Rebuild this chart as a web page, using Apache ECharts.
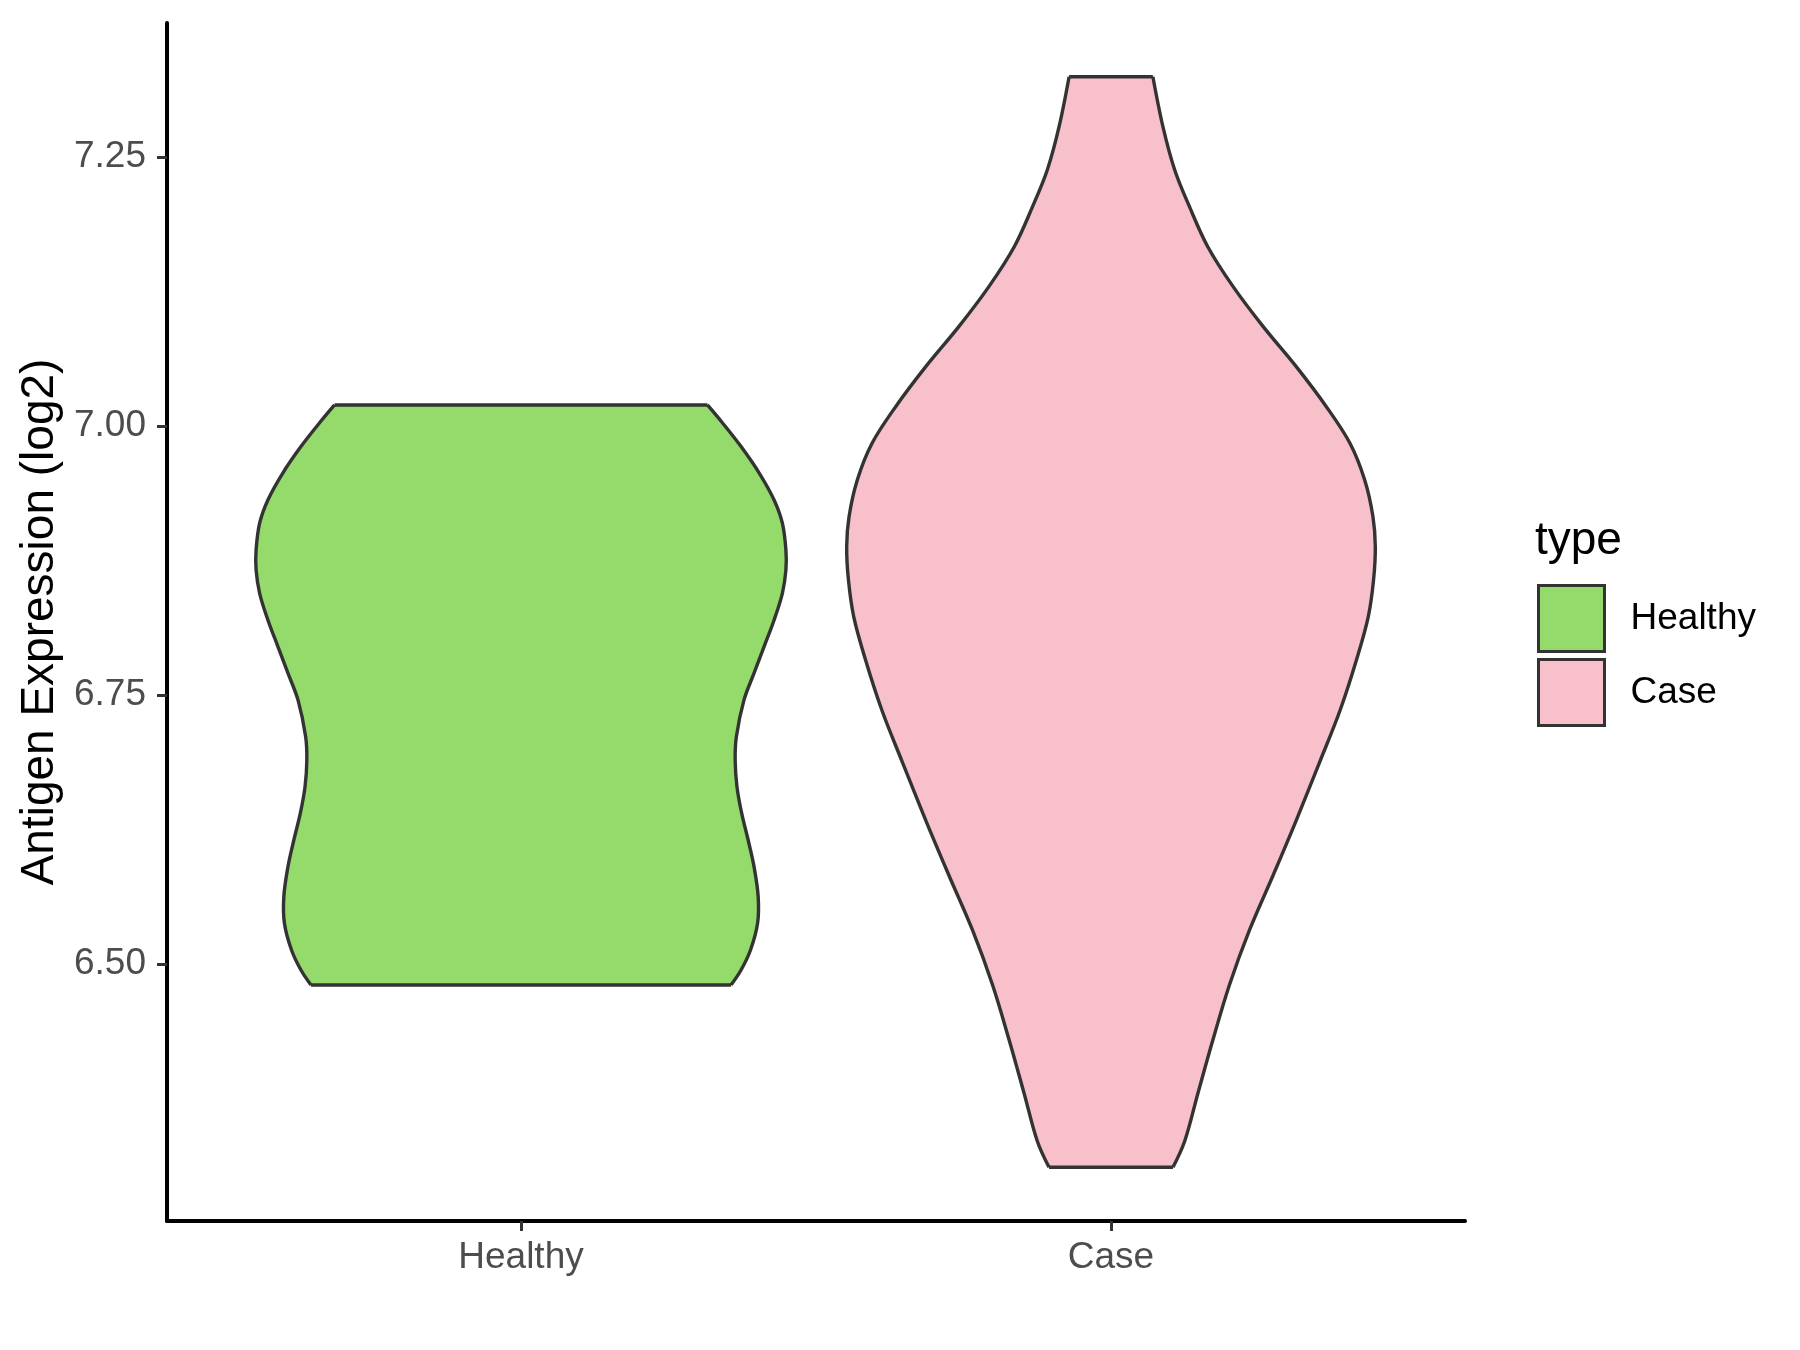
<!DOCTYPE html>
<html>
<head>
<meta charset="utf-8">
<title>Antigen Expression (log2)</title>
<script src="https://cdn.jsdelivr.net/npm/echarts@6/dist/echarts.min.js"></script>
<style>
  html, body { margin: 0; padding: 0; background: #ffffff; }
  #main { width: 1800px; height: 1350px; }
</style>
</head>
<body>
<div id="main"></div>
<script>
// x categories sit at positions 1 and 2 of a value axis (0.4 .. 2.6, like ggplot)
const categories = ["Healthy", "Case"];
const yTicks = [6.5, 6.75, 7.0, 7.25];
const fillColors = ["#94DB6B", "#F8C0CB"];

// violin outlines: y value + half width (category units)
const healthyY = [7.0195, 7.0025, 6.9808, 6.956, 6.9312, 6.9096, 6.8848, 6.8662, 6.8445, 6.8197,
  6.7949, 6.7702, 6.7454, 6.7112, 6.6896, 6.6648, 6.6401, 6.6152, 6.5904,
  6.5625, 6.5378, 6.513, 6.4944, 6.4805];
const healthyHalfWidth = [0.316, 0.342, 0.373, 0.404, 0.429, 0.443, 0.449, 0.449, 0.443, 0.429,
  0.412, 0.395, 0.378, 0.365, 0.363, 0.366, 0.374, 0.385, 0.395,
  0.402, 0.401, 0.389, 0.373, 0.356];

const caseY = [7.3246, 7.2782, 7.2379, 7.2038, 7.1666, 7.1295, 7.0923, 7.0551, 7.0179, 6.9839,
  6.9498, 6.9157, 6.8878, 6.8569, 6.8226, 6.7825, 6.7353, 6.6881, 6.6335, 6.5827,
  6.5318, 6.4809, 6.43, 6.3792, 6.3355, 6.311];
const caseHalfWidth = [0.071, 0.088, 0.108, 0.133, 0.164, 0.207, 0.258, 0.314, 0.365, 0.405,
  0.43, 0.444, 0.448, 0.445, 0.436, 0.416, 0.388, 0.354, 0.314, 0.275,
  0.235, 0.201, 0.173, 0.147, 0.125, 0.105];

const fontFamily = "'Liberation Sans', Arial, Helvetica, sans-serif";
const outline = { stroke: "#333333", lineWidth: 3.4, fill: null };

// violin = fill polygon + smoothed side outlines + flat top / bottom
function violinItem(ys, halfWidths, pos) {
  return function (params, api) {
    const left = [];
    const right = [];
    for (let i = 0; i < ys.length; i++) {
      left.push(api.coord([pos - halfWidths[i], ys[i]]));
      right.push(api.coord([pos + halfWidths[i], ys[i]]));
    }
    const n = ys.length - 1;
    const poly = left.concat(right.slice().reverse());
    return {
      type: "group",
      children: [
        { type: "polygon", shape: { points: poly, smooth: 0 }, style: { fill: fillColors[pos - 1] } },
        { type: "polyline", shape: { points: left, smooth: 0.35 }, style: outline },
        { type: "polyline", shape: { points: right, smooth: 0.35 }, style: outline },
        { type: "line", shape: { x1: left[0][0], y1: left[0][1], x2: right[0][0], y2: right[0][1] }, style: outline },
        { type: "line", shape: { x1: left[n][0], y1: left[n][1], x2: right[n][0], y2: right[n][1] }, style: outline }
      ]
    };
  };
}

const chart = echarts.init(document.getElementById("main"), null, { renderer: "canvas" });

const option = {
  backgroundColor: "#ffffff",
  animation: false,
  textStyle: { fontFamily: fontFamily },
  title: {
    text: "type",
    left: 1535,
    top: 518,
    padding: 0,
    textStyle: { fontSize: 46, fontWeight: "normal", color: "#000000", fontFamily: fontFamily }
  },
  legend: {
    orient: "vertical",
    left: 1537,
    top: 584,
    padding: 0,
    itemWidth: 66,
    itemHeight: 66,
    itemGap: 5,
    icon: "rect",
    selectedMode: false,
    textStyle: { fontSize: 37, color: "#000000", fontFamily: fontFamily, padding: [0, 0, 0, 21] },
    data: [
      { name: "Healthy", itemStyle: { color: fillColors[0], borderColor: "#333333", borderWidth: 3 } },
      { name: "Case", itemStyle: { color: fillColors[1], borderColor: "#333333", borderWidth: 3 } }
    ]
  },
  grid: { left: 167, right: 335, top: 23, bottom: 129, containLabel: false },
  xAxis: {
    type: "value",
    min: 0.4,
    max: 2.6,
    splitLine: { show: false },
    axisLine: { show: true, onZero: false, lineStyle: { color: "#000000", width: 4 } },
    axisTick: { show: true, length: 10, customValues: [1, 2], lineStyle: { color: "#333333", width: 3 } },
    axisLabel: {
      customValues: [1, 2],
      margin: 18,
      fontSize: 37,
      color: "#4D4D4D",
      fontFamily: fontFamily,
      formatter: function (v) { return categories[Math.round(v) - 1]; }
    }
  },
  yAxis: {
    type: "value",
    min: 6.2611,
    max: 7.3745,
    name: "Antigen Expression (log2)",
    nameLocation: "middle",
    nameGap: 102,
    nameTextStyle: { fontSize: 46, color: "#000000", fontFamily: fontFamily },
    splitLine: { show: false },
    axisLine: { show: true, onZero: false, lineStyle: { color: "#000000", width: 4 } },
    axisTick: { show: true, length: 10, customValues: yTicks, lineStyle: { color: "#333333", width: 3 } },
    axisLabel: {
      customValues: yTicks,
      margin: 21,
      fontSize: 37,
      color: "#4D4D4D",
      fontFamily: fontFamily,
      formatter: function (v) { return v.toFixed(2); }
    }
  },
  series: [
    {
      name: "Healthy",
      type: "custom",
      renderItem: violinItem(healthyY, healthyHalfWidth, 1),
      itemStyle: { color: fillColors[0], borderColor: "#333333", borderWidth: 3 },
      data: [[1, 6.75]],
      silent: true
    },
    {
      name: "Case",
      type: "custom",
      renderItem: violinItem(caseY, caseHalfWidth, 2),
      itemStyle: { color: fillColors[1], borderColor: "#333333", borderWidth: 3 },
      data: [[2, 6.8]],
      silent: true
    }
  ]
};

chart.setOption(option);
</script>
</body>
</html>
